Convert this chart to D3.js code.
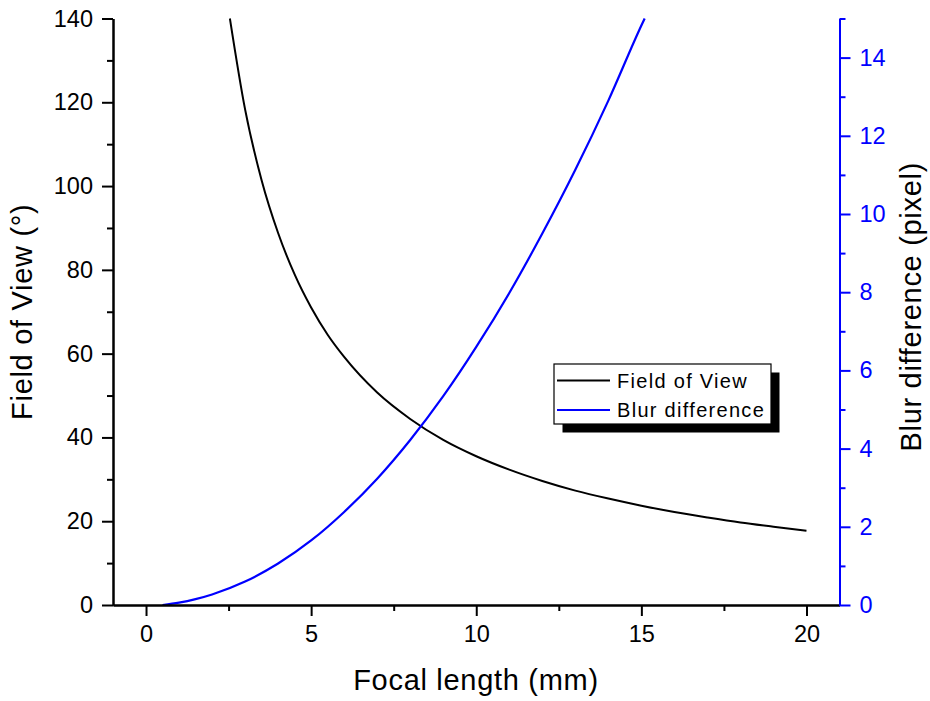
<!DOCTYPE html>
<html><head><meta charset="utf-8">
<script src="https://cdn.jsdelivr.net/npm/d3@7"></script>
<style>
body{margin:0;background:#fff;}
svg{display:block;font-family:"Liberation Sans",Arial,sans-serif;}
</style></head>
<body>
<svg id="c" width="930" height="701"></svg>
<script>
// Field of View (deg) vs focal length (mm)
const fovFocal = [2.54, 3, 3.5, 4, 4.5, 5, 5.5, 6, 7, 8, 9, 10, 11, 12, 13, 14, 15, 16, 17, 18, 19, 20];
const fovValues = [140, 118.3, 101.4, 88.8, 78.9, 71.0, 64.5, 59.2, 50.7, 44.4, 39.4, 35.5, 32.3, 29.6, 27.3, 25.4, 23.7, 22.2, 20.9, 19.7, 18.7, 17.75];
// Blur difference (pixel) vs focal length (mm)
const blurFocal = [0.5, 1, 1.5, 2, 3, 4, 5, 6, 7, 8, 9, 10, 11, 12, 13, 14, 15, 15.1];
const blurValues = [0, 0.06, 0.15, 0.27, 0.6, 1.06, 1.65, 2.38, 3.23, 4.22, 5.34, 6.6, 7.98, 9.5, 11.13, 12.9, 14.82, 15.0];
// ticks
const xMajor = [0, 5, 10, 15, 20];
const xMinor = [2.5, 7.5, 12.5, 17.5];
const yLeftMajor = [0, 20, 40, 60, 80, 100, 120, 140];
const yLeftMinor = [10, 30, 50, 70, 90, 110, 130];
const yRightMajor = [0, 2, 4, 6, 8, 10, 12, 14];
const yRightMinor = [1, 3, 5, 7, 9, 11, 13, 15];
const legendLabels = ["Field of View", "Blur difference"];
const seriesColors = ["#000000", "#0000ff"];

const svg = d3.select("#c");
const L = 113, R = 839.5, T = 18.5, B = 605;
const x = d3.scaleLinear().domain([-1, 21]).range([L, R]);
const yL = d3.scaleLinear().domain([0, 140]).range([B, T]);
const yR = d3.scaleLinear().domain([0, 15]).range([B, T]);

const tickFont = 23.5, titleFont = 29;
const majorLen = 11, minorLen = 6;

function styleAxis(g, color) {
  g.selectAll("path.domain").attr("stroke", color).attr("stroke-width", 2);
  g.selectAll(".tick line").attr("stroke", color).attr("stroke-width", 2);
  g.selectAll(".tick text").attr("fill", color).attr("font-size", tickFont)
    .attr("font-family", '"Liberation Sans",Arial,sans-serif');
}

// curves
const lineFov = d3.line().x((d, i) => x(fovFocal[i])).y(d => yL(d)).curve(d3.curveMonotoneX);
const lineBlur = d3.line().x((d, i) => x(blurFocal[i])).y(d => yR(d)).curve(d3.curveMonotoneX);
svg.append("path").attr("d", lineFov(fovValues)).attr("fill", "none")
  .attr("stroke", seriesColors[0]).attr("stroke-width", 2);
svg.append("path").attr("d", lineBlur(blurValues)).attr("fill", "none")
  .attr("stroke", seriesColors[1]).attr("stroke-width", 2.2);

// bottom axis
const gxMin = svg.append("g").attr("transform", `translate(0,${B})`)
  .call(d3.axisBottom(x).tickValues(xMinor).tickSize(minorLen).tickSizeOuter(0).tickFormat(""));
styleAxis(gxMin, "#000");
const gx = svg.append("g").attr("transform", `translate(0,${B})`)
  .call(d3.axisBottom(x).tickValues(xMajor).tickSize(majorLen).tickSizeOuter(0).tickPadding(9));
styleAxis(gx, "#000");

// left axis
const gyMin = svg.append("g").attr("transform", `translate(${L},0)`)
  .call(d3.axisLeft(yL).tickValues(yLeftMinor).tickSize(minorLen).tickSizeOuter(0).tickFormat(""));
styleAxis(gyMin, "#000");
const gy = svg.append("g").attr("transform", `translate(${L},0)`)
  .call(d3.axisLeft(yL).tickValues(yLeftMajor).tickSize(majorLen).tickSizeOuter(0).tickPadding(9));
styleAxis(gy, "#000");

// right axis
const grMin = svg.append("g").attr("transform", `translate(${R},0)`)
  .call(d3.axisRight(yR).tickValues(yRightMinor).tickSize(minorLen).tickSizeOuter(0).tickFormat(""));
styleAxis(grMin, "#0000ff");
const gr = svg.append("g").attr("transform", `translate(${R},0)`)
  .call(d3.axisRight(yR).tickValues(yRightMajor).tickSize(majorLen).tickSizeOuter(0).tickPadding(9));
styleAxis(gr, "#0000ff");

// titles
svg.append("text").attr("x", 476).attr("y", 690).attr("text-anchor", "middle")
  .attr("font-size", titleFont).attr("letter-spacing", 0.7).text("Focal length (mm)");
svg.append("text").attr("transform", `translate(32,${(T + B) / 2}) rotate(-90)`).attr("text-anchor", "middle")
  .attr("font-size", titleFont).attr("letter-spacing", 0.7).text("Field of View (°)");
svg.append("text").attr("transform", `translate(921,${(T + B) / 2 - 5}) rotate(-90)`).attr("text-anchor", "middle")
  .attr("font-size", titleFont).attr("letter-spacing", 0.7).text("Blur difference (pixel)");

// legend
const lg = svg.append("g").attr("transform", "translate(554,364)");
const lw = 217, lh = 60;
lg.append("rect").attr("x", 8.5).attr("y", 8.5).attr("width", lw).attr("height", lh).attr("fill", "#000");
lg.append("rect").attr("x", 0).attr("y", 0).attr("width", lw).attr("height", lh)
  .attr("fill", "#fff").attr("stroke", "#000").attr("stroke-width", 1.2);
legendLabels.forEach((lab, i) => {
  const yy = 16.5 + i * 29.5;
  lg.append("line").attr("x1", 3).attr("x2", 56).attr("y1", yy).attr("y2", yy)
    .attr("stroke", seriesColors[i]).attr("stroke-width", 2);
  lg.append("text").attr("x", 63).attr("y", yy).attr("dy", "0.35em")
    .attr("font-size", 20).attr("letter-spacing", 1.3).text(lab);
});
</script>
</body></html>
